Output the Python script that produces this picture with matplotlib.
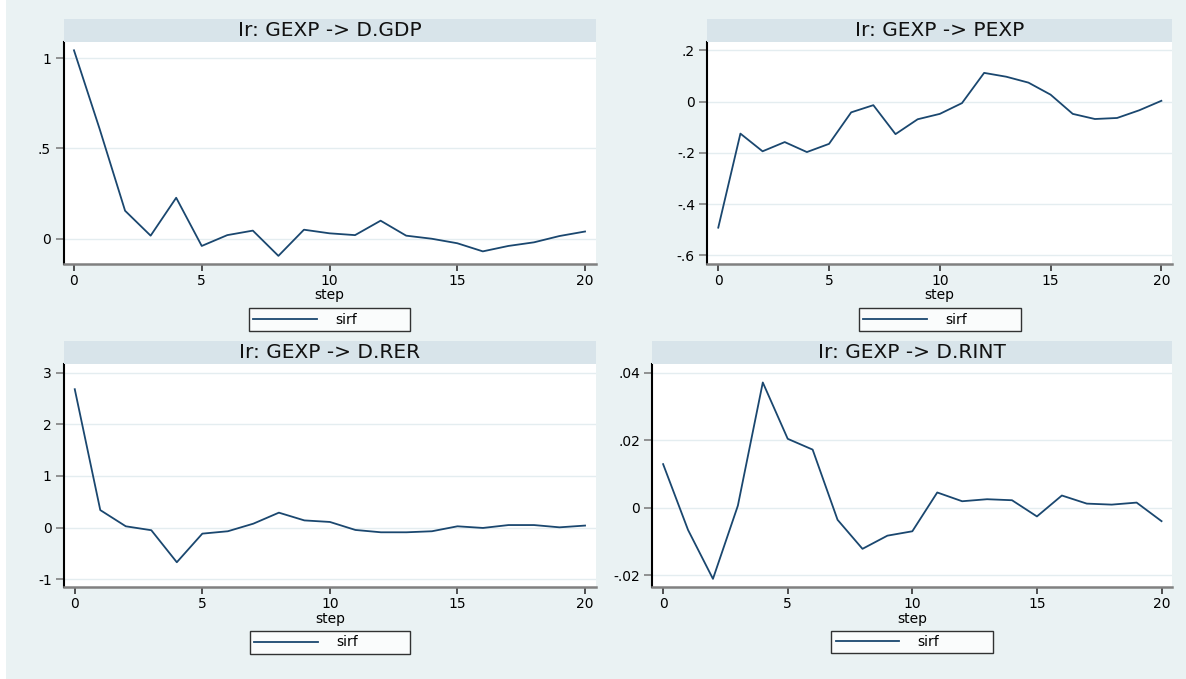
import matplotlib
matplotlib.use("Agg")
import matplotlib.pyplot as plt
from matplotlib.patches import Rectangle
from matplotlib.lines import Line2D

plt.rcParams['font.family'] = ['DejaVu Sans']

# ---------------- data ----------------
steps = list(range(21))

titles = ["Ir: GEXP -> D.GDP", "Ir: GEXP -> PEXP",
          "Ir: GEXP -> D.RER", "Ir: GEXP -> D.RINT"]

sirf_gdp = [1.044, 0.61, 0.155, 0.017, 0.227, -0.04, 0.02, 0.045, -0.095, 0.05,
            0.03, 0.02, 0.10, 0.017, 0.0, -0.025, -0.07, -0.04, -0.02, 0.015, 0.04]
sirf_pexp = [-0.492, -0.125, -0.194, -0.158, -0.197, -0.165, -0.042, -0.014, -0.127,
             -0.069, -0.048, -0.006, 0.112, 0.097, 0.074, 0.027, -0.048, -0.068,
             -0.064, -0.034, 0.003]
sirf_rer = [2.68, 0.34, 0.026, -0.05, -0.67, -0.116, -0.07, 0.077, 0.29, 0.14,
            0.11, -0.045, -0.09, -0.09, -0.07, 0.026, -0.006, 0.05, 0.05, 0.006, 0.04]
sirf_rint = [0.0129, -0.0066, -0.0211, 0.0006, 0.0371, 0.0204, 0.0172, -0.0036,
             -0.0122, -0.0083, -0.0070, 0.0045, 0.0019, 0.0025, 0.0022, -0.0026,
             0.0036, 0.0012, 0.0009, 0.0015, -0.0040]

xticks = [0, 5, 10, 15, 20]
yticks_gdp = [0, 0.5, 1]
ylabels_gdp = ["0", ".5", "1"]
yticks_pexp = [-0.6, -0.4, -0.2, 0, 0.2]
ylabels_pexp = ["-.6", "-.4", "-.2", "0", ".2"]
yticks_rer = [-1, 0, 1, 2, 3]
ylabels_rer = ["-1", "0", "1", "2", "3"]
yticks_rint = [-0.02, 0, 0.02, 0.04]
ylabels_rint = ["-.02", "0", ".02", ".04"]

series = [sirf_gdp, sirf_pexp, sirf_rer, sirf_rint]
yticks = [yticks_gdp, yticks_pexp, yticks_rer, yticks_rint]
ylabels = [ylabels_gdp, ylabels_pexp, ylabels_rer, ylabels_rint]
legend_label = "sirf"
xlabel = "step"

# ---------------- layout ----------------
W, H = 1186, 679
fig = plt.figure(figsize=(W / 100, H / 100), dpi=100, facecolor="white")

BG = "#EAF2F3"
BAND = "#D8E4EA"
LINE = "#1A476F"
GRID = "#E4EDF0"

fig.patches.append(Rectangle((6 / W, 0), 1 - 6 / W, 1, transform=fig.transFigure,
                             facecolor=BG, edgecolor="none", zorder=-10))

# pixel boxes: left, right, top, bottom
boxes = [(63.5, 595.5, 42, 264), (707.4, 1172, 42, 264),
         (64.3, 595.5, 364, 587.3), (652.4, 1172, 364, 587.3)]
ylims = [(-0.140, 1.090), (-0.6338, 0.2325), (-1.155, 3.168), (-0.0236, 0.04257)]
xlims = [(-0.41, 20.41), (-0.49, 20.48), (-0.41, 20.41), (-0.43, 20.42)]
legend_boxes = [(249, 409.5, 307, 332), (859, 1021, 307, 332),
                (250, 410, 631, 654), (831.4, 992.8, 630, 654)]
band_h = 23

for i in range(4):
    l, r, t, b = boxes[i]
    ax = fig.add_axes([l / W, (H - b) / H, (r - l) / W, (b - t) / H])
    ax.set_facecolor("white")
    ax.plot(steps, series[i], color=LINE, linewidth=1.3)
    ax.set_xlim(*xlims[i])
    ax.set_ylim(*ylims[i])
    ax.set_xticks(xticks)
    ax.set_xticklabels([str(v) for v in xticks])
    ax.set_yticks(yticks[i])
    ax.set_yticklabels(ylabels[i])
    ax.grid(axis="y", color=GRID, linewidth=1.0)
    ax.set_axisbelow(True)
    for s in ["top", "right"]:
        ax.spines[s].set_visible(False)
    ax.spines["left"].set_color("#000000")
    ax.spines["left"].set_linewidth(1.5)
    ax.spines["bottom"].set_color("#808080")
    ax.spines["bottom"].set_linewidth(1.8)
    ax.tick_params(axis="y", length=6, width=1.2, color="#808080", pad=3,
                   labelsize=10, labelcolor="black")
    ax.tick_params(axis="x", length=5, width=1.2, color="#333333", pad=2,
                   labelsize=10, labelcolor="black")
    ax.set_xlabel(xlabel, fontsize=10, labelpad=0.5)

    # title band
    fig.patches.append(Rectangle((l / W, (H - t) / H), (r - l) / W, band_h / H,
                                 transform=fig.transFigure, facecolor=BAND,
                                 edgecolor="none", zorder=1))
    fig.text((l + r) / 2 / W, (H - t + band_h / 2) / H, titles[i],
             ha="center", va="center", fontsize=14.5, color="#111111")

    # legend
    ll, lr, lt, lb = legend_boxes[i]
    handle = Line2D([], [], color=LINE, linewidth=1.3)
    leg = fig.legend([handle], [legend_label], loc="center",
                     bbox_to_anchor=(ll / W, (H - lb) / H, (lr - ll) / W, (lb - lt) / H),
                     mode="expand", fontsize=10, handlelength=4.6,
                     handletextpad=1.3, borderpad=0.3, borderaxespad=0,
                     fancybox=False, frameon=True)
    leg.get_frame().set_edgecolor("black")
    leg.get_frame().set_linewidth(1.0)
    leg.get_frame().set_facecolor("white")

fig.savefig("out.png", dpi=100, facecolor=fig.get_facecolor())
